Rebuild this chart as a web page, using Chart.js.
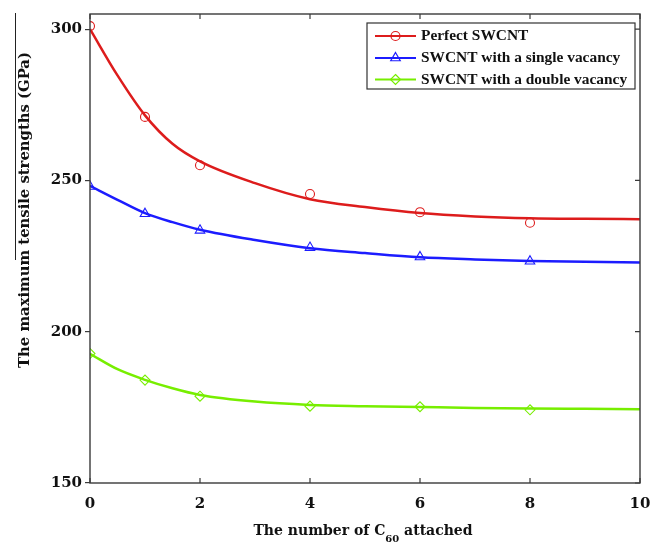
<!DOCTYPE html>
<html>
<head>
<meta charset="utf-8">
<script src="https://cdn.jsdelivr.net/npm/chart.js@4.4.1/dist/chart.umd.min.js"></script>
<style>
  html, body { margin: 0; padding: 0; background: #ffffff; }
  #wrap { width: 664px; height: 545px; }
</style>
</head>
<body>
<div id="wrap"><canvas id="c" width="664" height="545"></canvas></div>
<script>
// Number of C60 molecules attached (simulation points)
const counts = [0, 1, 2, 4, 6, 8];
// Maximum tensile strength (GPa) from simulation
const perfect = [301, 271, 255, 245.5, 239.5, 236];
const single  = [248, 239, 233.5, 227.8, 224.7, 223.3];
const double  = [192.8, 184, 178.7, 175.4, 175.2, 174.2];

// Fitted decay curves, sampled along the x range
const fitX       = [0, 0.5, 1, 1.5, 2, 3, 4, 5, 6, 7, 8, 9, 10];
const perfectFit = [300.0, 284.7, 271.5, 262.1, 256.3, 249.1, 243.8, 241.2, 239.2, 238.1, 237.5, 237.3, 237.2];
const singleFit  = [248.2, 243.6, 239.2, 236.2, 233.7, 230.3, 227.6, 226.0, 224.6, 223.9, 223.4, 223.1, 222.9];
const doubleFit  = [192.7, 187.6, 184.1, 181.3, 179.1, 176.9, 175.8, 175.4, 175.1, 174.8, 174.6, 174.5, 174.4];

// Axis ticks
const xTicks = [0, 2, 4, 6, 8, 10];
const yTicks = [150, 200, 250, 300];

const seriesNames = ['Perfect SWCNT', 'SWCNT with a single vacancy', 'SWCNT with a double vacancy'];
const colors = ['#dd1c1c', '#1c1cff', '#77ee00'];
const markers = ['circle', 'triangle', 'rectRot'];
const markerSizes = [4.5, 5.5, 5];

const pts = (xs, ys) => xs.map((x, i) => ({ x: x, y: ys[i] }));

const fits = [perfectFit, singleFit, doubleFit];
const sims = [perfect, single, double];

const datasets = [];
for (let i = 0; i < 3; i++) {
  datasets.push({
    label: seriesNames[i],
    data: pts(fitX, fits[i]),
    showLine: true,
    borderColor: colors[i],
    borderWidth: 2.5,
    pointRadius: 0,
    cubicInterpolationMode: 'monotone',
    order: 2
  });
}
for (let i = 0; i < 3; i++) {
  datasets.push({
    label: seriesNames[i] + ' (simulation)',
    data: pts(counts, sims[i]),
    showLine: false,
    borderColor: colors[i],
    backgroundColor: 'rgba(0,0,0,0)',
    pointStyle: markers[i],
    pointRadius: markerSizes[i],
    pointBorderWidth: 1.1,
    order: 1
  });
}

const tickFont = { family: '"DejaVu Serif"', size: 15, weight: 'bold' };

function drawMarker(ctx, style, x, y, r) {
  ctx.beginPath();
  if (style === 'circle') {
    ctx.arc(x, y, r, 0, Math.PI * 2);
  } else if (style === 'triangle') {
    for (let k = 0; k < 3; k++) {
      const a = k * 2 * Math.PI / 3;
      const px = x + Math.sin(a) * r, py = y - Math.cos(a) * r;
      if (k === 0) ctx.moveTo(px, py); else ctx.lineTo(px, py);
    }
    ctx.closePath();
  } else {
    ctx.moveTo(x, y - r); ctx.lineTo(x + r, y); ctx.lineTo(x, y + r); ctx.lineTo(x - r, y);
    ctx.closePath();
  }
  ctx.stroke();
}

const decorations = {
  id: 'decorations',
  afterDraw(chart) {
    const ctx = chart.ctx;
    const a = chart.chartArea;
    const xs = chart.scales.x, ys = chart.scales.y;
    ctx.save();

    // plot frame
    ctx.strokeStyle = '#3a3a3a';
    ctx.lineWidth = 1.4;
    ctx.strokeRect(a.left, a.top, a.right - a.left, a.bottom - a.top);

    // inward tick marks on top, bottom and right edges
    ctx.lineWidth = 1.2;
    ctx.beginPath();
    xTicks.forEach(v => {
      const px = xs.getPixelForValue(v);
      ctx.moveTo(px, a.top); ctx.lineTo(px, a.top + 5);
      ctx.moveTo(px, a.bottom); ctx.lineTo(px, a.bottom - 5);
    });
    yTicks.forEach(v => {
      const py = ys.getPixelForValue(v);
      ctx.moveTo(a.right, py); ctx.lineTo(a.right - 5, py);
    });
    ctx.stroke();

    // y-axis title
    ctx.fillStyle = '#111';
    ctx.font = 'bold 14.8px "DejaVu Serif"';
    ctx.textAlign = 'center';
    ctx.textBaseline = 'middle';
    ctx.save();
    ctx.translate(25, 210);
    ctx.rotate(-Math.PI / 2);
    ctx.fillText('The maximum tensile strengths (GPa)', 0, 0);
    ctx.restore();
    // rule beside the y-axis title
    ctx.strokeStyle = '#222';
    ctx.lineWidth = 1;
    ctx.beginPath();
    ctx.moveTo(15.5, 13); ctx.lineTo(15.5, 260);
    ctx.stroke();

    // x-axis title with subscript
    const mainFont = 'bold 14px "DejaVu Serif"';
    const subFont = 'bold 10px "DejaVu Serif"';
    const p1 = 'The number of C', p2 = '60', p3 = ' attached';
    ctx.textAlign = 'left';
    ctx.textBaseline = 'alphabetic';
    ctx.font = mainFont; const w1 = ctx.measureText(p1).width, w3 = ctx.measureText(p3).width;
    ctx.font = subFont; const w2 = ctx.measureText(p2).width;
    let tx = (a.left + a.right) / 2 - (w1 + w2 + w3) / 2 - 2;
    const base = 535;
    ctx.font = mainFont; ctx.fillText(p1, tx, base); tx += w1;
    ctx.font = subFont; ctx.fillText(p2, tx, base + 7); tx += w2;
    ctx.font = mainFont; ctx.fillText(p3, tx, base);

    // legend box
    const lx = 367, ly = 23, lw = 268, lh = 66;
    ctx.fillStyle = '#fff';
    ctx.fillRect(lx, ly, lw, lh);
    ctx.strokeStyle = '#333';
    ctx.lineWidth = 1.2;
    ctx.strokeRect(lx, ly, lw, lh);
    const rows = [36, 58, 79.5];
    ctx.font = 'bold 15.4px "Liberation Serif"';
    ctx.textBaseline = 'middle';
    for (let i = 0; i < 3; i++) {
      const y = rows[i];
      ctx.strokeStyle = colors[i];
      ctx.lineWidth = 2;
      ctx.beginPath(); ctx.moveTo(375, y); ctx.lineTo(416, y); ctx.stroke();
      ctx.lineWidth = 1.2;
      drawMarker(ctx, markers[i], 395.5, y, markerSizes[i]);
      ctx.fillStyle = '#111';
      ctx.fillText(seriesNames[i], 421, y + 0.5);
    }
    ctx.restore();
  }
};

new Chart(document.getElementById('c'), {
  type: 'scatter',
  data: { datasets: datasets },
  options: {
    responsive: false,
    animation: false,
    layout: { padding: { left: 50, right: 24, top: 14, bottom: 22 } },
    plugins: { legend: { display: false }, tooltip: { enabled: false } },
    scales: {
      x: {
        type: 'linear', min: 0, max: 10,
        afterFit(s) { s.height = 40; },
        afterBuildTicks(s) { s.ticks = xTicks.map(v => ({ value: v })); },
        ticks: { font: tickFont, color: '#111', padding: 4, maxRotation: 0 },
        grid: { display: false },
        border: { display: false }
      },
      y: {
        type: 'linear', min: 150, max: 305,
        afterFit(s) { s.width = 40; },
        afterBuildTicks(s) { s.ticks = yTicks.map(v => ({ value: v })); },
        ticks: { font: tickFont, color: '#111', padding: 3 },
        grid: { display: true, drawOnChartArea: false, drawTicks: true, tickLength: 5, color: '#3a3a3a', lineWidth: 1.2 },
        border: { display: false }
      }
    }
  },
  plugins: [decorations]
});
</script>
</body>
</html>
